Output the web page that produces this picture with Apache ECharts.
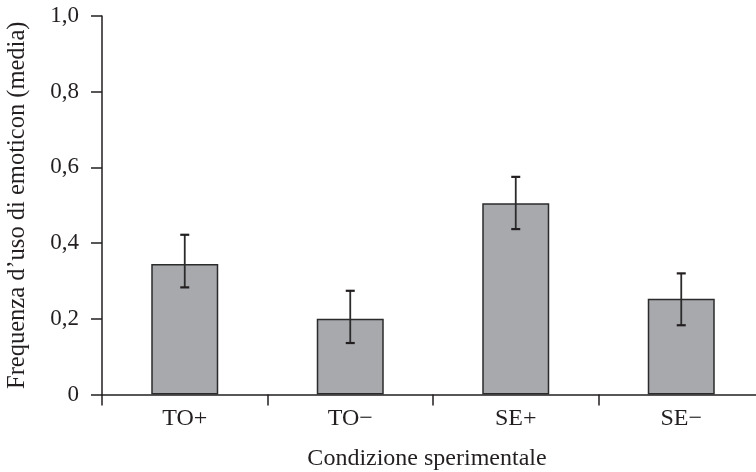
<!DOCTYPE html>
<html>
<head>
<meta charset="utf-8">
<style>html,body{margin:0;padding:0;background:#fff;}#c{width:756px;height:472px;}</style>
<script src="https://cdn.jsdelivr.net/npm/echarts@6/dist/echarts.min.js"></script>
</head>
<body>
<div id="c"></div>
<script>
var categories = ['TO+', 'TO\u2212', 'SE+', 'SE\u2212'];
var means = [0.345, 0.200, 0.505, 0.253];
var errLow = [0.283, 0.136, 0.437, 0.183];
var errHigh = [0.422, 0.274, 0.575, 0.320];
var yTickValues = [0, 0.2, 0.4, 0.6, 0.8, 1.0];
var yTickLabels = ['0', '0,2', '0,4', '0,6', '0,8', '1,0'];

var FONT = '"Liberation Serif", "DejaVu Serif", serif';
var AX = '#231f20';

var errData = categories.map(function (c, i) { return [i, errLow[i], errHigh[i]]; });

var chart = echarts.init(document.getElementById('c'), null, {renderer: 'canvas'});
chart.setOption({
  animation: false,
  backgroundColor: '#fff',
  grid: {left: 102, right: -8, top: 16, bottom: 77.5, containLabel: false, outerBoundsMode: 'none'},
  xAxis: {
    type: 'category',
    data: categories,
    boundaryGap: true,
    name: 'Condizione sperimentale',
    nameLocation: 'middle',
    nameGap: 52,
    nameTextStyle: {fontFamily: FONT, fontSize: 24, color: AX, padding: [0, 12, 0, 0]},
    axisLine: {lineStyle: {color: AX, width: 1.5}},
    axisTick: {show: true, inside: false, length: 11, alignWithLabel: false, lineStyle: {color: AX, width: 1.5}},
    axisLabel: {fontFamily: FONT, fontSize: 24, color: AX, margin: 12},
    splitLine: {show: false}
  },
  yAxis: {
    type: 'value',
    min: 0, max: 1, interval: 0.2,
    name: 'Frequenza d\u2019uso di emoticon (media)',
    nameLocation: 'middle',
    nameGap: 72,
    nameRotate: 90,
    nameTextStyle: {fontFamily: FONT, fontSize: 24.5, color: AX},
    axisLine: {show: true, lineStyle: {color: AX, width: 1.5}},
    axisTick: {show: true, inside: false, length: 11, lineStyle: {color: AX, width: 1.5}},
    axisLabel: {
      fontFamily: FONT, fontSize: 23, color: AX, margin: 23,
      formatter: function (v) {
        for (var i = 0; i < yTickValues.length; i++) {
          if (Math.abs(yTickValues[i] - v) < 1e-9) return yTickLabels[i];
        }
        return '';
      }
    },
    splitLine: {show: false}
  },
  series: [
    {
      type: 'bar',
      data: means,
      barWidth: 67,
      itemStyle: {color: '#a7a9ac', borderColor: '#2b2b2b', borderWidth: 1.5},
      z: 2
    },
    {
      type: 'custom',
      data: errData,
      z: 5,
      renderItem: function (params, api) {
        var x = api.value(0);
        var lo = api.coord([x, api.value(1)]);
        var hi = api.coord([x, api.value(2)]);
        var hw = 4.5;
        var st = {stroke: '#2b2b2b', lineWidth: 1.8};
        return {
          type: 'group',
          children: [
            {type: 'line', shape: {x1: lo[0], y1: lo[1], x2: hi[0], y2: hi[1]}, style: st},
            {type: 'line', shape: {x1: hi[0] - hw, y1: hi[1], x2: hi[0] + hw, y2: hi[1]}, style: {stroke: '#231f20', lineWidth: 2.2}},
            {type: 'line', shape: {x1: lo[0] - hw, y1: lo[1], x2: lo[0] + hw, y2: lo[1]}, style: {stroke: '#231f20', lineWidth: 2.2}}
          ]
        };
      }
    }
  ]
});
</script>
</body>
</html>
